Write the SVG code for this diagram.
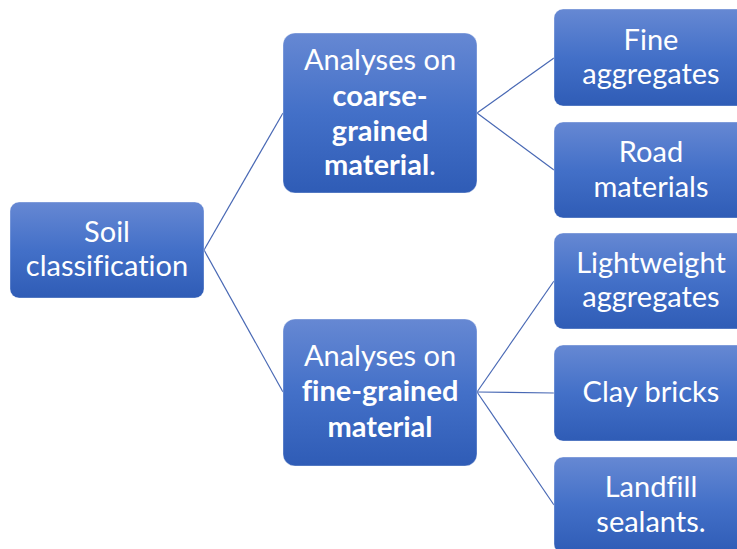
<svg xmlns="http://www.w3.org/2000/svg" width="737" height="549" viewBox="0 0 737 549">
  <defs>
    <linearGradient id="boxFill" x1="0" y1="0" x2="0" y2="1">
      <stop offset="0" stop-color="#6688D3"/>
      <stop offset="0.5" stop-color="#4370C8"/>
      <stop offset="1" stop-color="#2F5CB6"/>
    </linearGradient>
    <style>
      .box { fill: url(#boxFill); stroke: #ffffff; stroke-opacity: 0.35; stroke-width: 1; }
      .lbl { font-family: Lato, "Open Sans", "Liberation Sans", sans-serif; font-size: 29px; fill: #ffffff; text-anchor: middle; font-variant-ligatures: none; }
      .b { font-weight: bold; }
      .conn { fill: none; stroke: #4868B4; stroke-width: 1.2; }
    </style>
  </defs>
  <rect width="737" height="549" fill="#ffffff"/>

  <!-- connectors -->
  <g id="connectors" class="conn">
    <path d="M204,250 L283,113"/>
    <path d="M204,250 L283,392"/>
    <path d="M477,113 L554,58"/>
    <path d="M477,113 L554,170"/>
    <path d="M477,392 L554,281"/>
    <path d="M477,392 L554,393"/>
    <path d="M477,392 L554,505"/>
  </g>

  <g id="soil-classification">
    <rect class="box" x="10" y="202" width="194" height="96" rx="9"/>
    <text class="lbl" x="107" y="242">Soil</text>
    <text class="lbl" x="107" y="276">classification</text>
  </g>

  <g id="coarse-grained">
    <rect class="box" x="283" y="33" width="194" height="160" rx="12"/>
    <text class="lbl" x="380" y="70">Analyses on</text>
    <text class="lbl b" x="380" y="106">coarse-</text>
    <text class="lbl b" x="380" y="141">grained</text>
    <text class="lbl" x="380" y="175"><tspan class="b">material</tspan>.</text>
  </g>

  <g id="fine-grained">
    <rect class="box" x="283" y="319" width="194" height="147" rx="12"/>
    <text class="lbl" x="380" y="366">Analyses on</text>
    <text class="lbl b" x="380" y="401">fine-grained</text>
    <text class="lbl b" x="380" y="437">material</text>
  </g>

  <g id="fine-aggregates">
    <rect class="box" x="554" y="9" width="194" height="97" rx="9"/>
    <text class="lbl" x="651" y="50">Fine</text>
    <text class="lbl" x="651" y="84">aggregates</text>
  </g>

  <g id="road-materials">
    <rect class="box" x="554" y="122" width="194" height="96" rx="9"/>
    <text class="lbl" x="651" y="162">Road</text>
    <text class="lbl" x="651" y="197">materials</text>
  </g>

  <g id="lightweight-aggregates">
    <rect class="box" x="554" y="233" width="194" height="96" rx="9"/>
    <text class="lbl" x="651" y="273">Lightweight</text>
    <text class="lbl" x="651" y="307">aggregates</text>
  </g>

  <g id="clay-bricks">
    <rect class="box" x="554" y="345" width="194" height="96" rx="9"/>
    <text class="lbl" x="651" y="402">Clay bricks</text>
  </g>

  <g id="landfill-sealants">
    <rect class="box" x="554" y="457" width="194" height="96" rx="9"/>
    <text class="lbl" x="651" y="497">Landfill</text>
    <text class="lbl" x="651" y="532">sealants.</text>
  </g>
</svg>
